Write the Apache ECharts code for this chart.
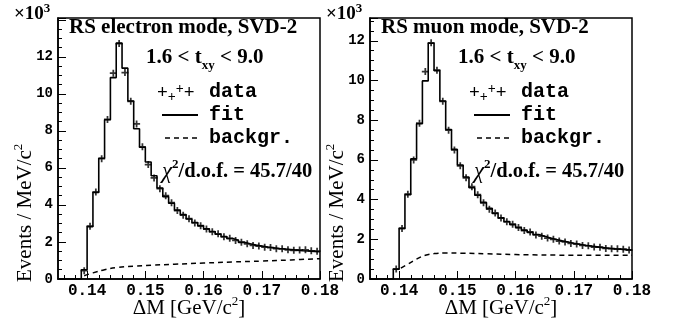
<!DOCTYPE html>
<html>
<head>
<meta charset="utf-8">
<script src="https://cdn.jsdelivr.net/npm/echarts@6/dist/echarts.min.js"></script>
<style>html,body{margin:0;padding:0;background:#fff}#c{width:676px;height:324px}</style>
</head>
<body>
<div id="c"></div>
<script>
// ---- binning (1 MeV bins from 0.135 to 0.180 GeV) ----
const binLo = 0.135;
const binW = 0.001;

// ---- tick labels ----
const xMajorTicks = [0.14, 0.15, 0.16, 0.17, 0.18];
const xMinorTicks = [0.136, 0.138, 0.142, 0.144, 0.146, 0.148, 0.152, 0.154, 0.156, 0.158,
                     0.162, 0.164, 0.166, 0.168, 0.172, 0.174, 0.176, 0.178];
const yLabels = [0, 2, 4, 6, 8, 10, 12];

// ---- electron mode (units of 10^3 events / MeV) ----
const elecFit = [0, 0, 0, 0, 0.5, 2.83, 4.68, 6.52, 8.6, 10.88, 12.74, 11.39, 9.62, 8.12, 7.12,
  6.32, 5.58, 4.92, 4.45, 4.09, 3.72, 3.48, 3.24, 3.05, 2.87, 2.71, 2.57, 2.42, 2.3, 2.19,
  2.09, 1.98, 1.9, 1.83, 1.78, 1.73, 1.69, 1.65, 1.62, 1.59, 1.56, 1.53, 1.51, 1.49, 1.47];
const elecData = [0, 0, 0, 0, 0.45, 2.85, 4.7, 6.5, 8.62, 11.12, 12.72, 11.15, 9.6, 8.38, 7.14,
  6.18, 5.46, 4.88, 4.5, 4.12, 3.7, 3.45, 3.26, 3.03, 2.88, 2.7, 2.55, 2.44, 2.28, 2.2,
  2.08, 1.99, 1.9, 1.81, 1.78, 1.72, 1.7, 1.64, 1.63, 1.58, 1.55, 1.57, 1.58, 1.52, 1.5];
const elecBgX = [0.1395, 0.141, 0.143, 0.145, 0.148, 0.151, 0.155, 0.160, 0.165, 0.170, 0.175, 0.180];
const elecBgY = [0.18, 0.33, 0.5, 0.62, 0.69, 0.74, 0.8, 0.86, 0.92, 0.97, 1.03, 1.1];

// ---- muon mode ----
const muFit = [0, 0, 0, 0, 0.5, 2.55, 4.25, 6.05, 7.82, 9.98, 11.88, 10.5, 8.97, 7.53, 6.53,
  5.74, 5.14, 4.6, 4.22, 3.86, 3.56, 3.3, 3.08, 2.9, 2.74, 2.59, 2.46, 2.35, 2.24, 2.15,
  2.07, 1.99, 1.92, 1.86, 1.8, 1.75, 1.7, 1.66, 1.62, 1.58, 1.55, 1.52, 1.5, 1.48, 1.46];
const muData = [0, 0, 0, 0, 0.5, 2.55, 4.27, 6.0, 7.85, 10.45, 11.9, 10.52, 8.95, 7.5, 6.5,
  5.7, 5.1, 4.65, 4.25, 3.84, 3.52, 3.33, 3.07, 2.88, 2.76, 2.6, 2.44, 2.37, 2.22, 2.16,
  2.06, 2.0, 1.91, 1.87, 1.79, 1.76, 1.69, 1.67, 1.61, 1.6, 1.54, 1.53, 1.52, 1.5, 1.46];
const muBgX = [0.1403, 0.1415, 0.143, 0.1445, 0.146, 0.148, 0.151, 0.155, 0.160, 0.170, 0.180];
const muBgY = [0.55, 0.75, 1.0, 1.2, 1.28, 1.31, 1.3, 1.27, 1.23, 1.2, 1.2];

const panelTitles = ['RS electron mode, SVD-2', 'RS muon mode, SVD-2'];
const cutText = '1.6 < t{sub|xy} < 9.0';
const chiText = '{chi|χ}{sup|2}/d.o.f. = 45.7/40';
const yMax = [14.1, 13.15];

// ---- helpers ----
function stepData(vals) {
  const d = vals.map((v, i) => [+(binLo + i * binW).toFixed(4), v]);
  d.push([+(binLo + vals.length * binW).toFixed(4), vals[vals.length - 1]]);
  return d;
}
function pointData(vals) {
  return vals.map((v, i) => v === 0 ? null : [+(binLo + (i + 0.5) * binW).toFixed(4), v]).filter(Boolean);
}
function zip(xs, ys) { return xs.map((x, i) => [x, ys[i]]); }

const SERIF = 'Liberation Serif';
const MONO = 'Liberation Mono';
const gridLefts = [58, 370];
const gridTop = 18, gridW = 262, gridH = 261;
const plusPath = 'path://M-0.25,-1H0.25V-0.25H1V0.25H0.25V1H-0.25V0.25H-1V-0.25H-0.25Z';

const grids = [], xAxes = [], yAxes = [], series = [], graphics = [];

[0, 1].forEach(p => {
  const L = gridLefts[p];
  grids.push({left: L, top: gridTop, width: gridW, height: gridH, show: true,
    borderColor: '#000', borderWidth: 1.5, backgroundColor: 'transparent'});
  xAxes.push({gridIndex: p, type: 'value', min: binLo, max: 0.18,
    axisLine: {show: true, onZero: false, lineStyle: {color: '#000', width: 1.5}},
    axisTick: {show: true, inside: true, length: 8, customValues: xMajorTicks, lineStyle: {color: '#000', width: 1}},
    axisLabel: {show: true, customValues: xMajorTicks, formatter: v => v.toFixed(2), color: '#000',
      fontFamily: MONO, fontWeight: 'bold', fontSize: 16, margin: 4},
    splitLine: {show: false}});
  xAxes.push({gridIndex: p, type: 'value', min: binLo, max: 0.18, position: 'bottom',
    axisLine: {show: false},
    axisTick: {show: true, inside: true, length: 4, customValues: xMinorTicks, lineStyle: {color: '#000', width: 1}},
    axisLabel: {show: false}, splitLine: {show: false}});
  yAxes.push({gridIndex: p, type: 'value', min: 0, max: yMax[p], interval: 2,
    axisLine: {show: true, onZero: false, lineStyle: {color: '#000', width: 1.5}},
    axisTick: {show: true, inside: true, length: 8, lineStyle: {color: '#000', width: 1}},
    minorTick: {show: true, splitNumber: 4, length: 4, lineStyle: {color: '#000', width: 1}},
    axisLabel: {show: true, customValues: yLabels, color: '#000', fontFamily: MONO, fontWeight: 'bold', fontSize: 14, margin: 5},
    splitLine: {show: false}, minorSplitLine: {show: false}});

  const fit = p === 0 ? elecFit : muFit;
  const dat = p === 0 ? elecData : muData;
  const bg = p === 0 ? zip(elecBgX, elecBgY) : zip(muBgX, muBgY);
  const xi = p * 2;
  series.push({type: 'line', name: 'fit', xAxisIndex: xi, yAxisIndex: p, step: 'end', data: stepData(fit),
    showSymbol: false, symbol: 'none', lineStyle: {color: '#000', width: 1.6}, animation: false, z: 3});
  series.push({type: 'line', name: 'backgr.', xAxisIndex: xi, yAxisIndex: p, data: bg, smooth: 0.4,
    showSymbol: false, symbol: 'none', lineStyle: {color: '#000', width: 1.5, type: [5, 4]}, animation: false, z: 2});
  series.push({type: 'scatter', name: 'data', xAxisIndex: xi, yAxisIndex: p, data: pointData(dat),
    symbol: plusPath, symbolSize: 7, itemStyle: {color: '#000'}, animation: false, z: 4});

  const txt = (x, y, text, size, family, weight, extra) => graphics.push(Object.assign({
    type: 'text', x: x, y: y, z: 10,
    style: Object.assign({text: text, fill: '#000', fontSize: size, fontFamily: family, fontWeight: weight,
      align: 'left', verticalAlign: 'middle'}, extra || {})
  }));
  const supRich = {
    sup: {fontSize: 13, fontFamily: SERIF, fontWeight: 'bold', fill: '#000', verticalAlign: 'top', lineHeight: 28},
    sub: {fontSize: 13, fontFamily: SERIF, fontWeight: 'bold', fill: '#000', verticalAlign: 'bottom', lineHeight: 28},
    chi: {fontSize: 23, fontFamily: SERIF, fontStyle: 'italic', fill: '#000', lineHeight: 28}
  };
  txt(L + 11, 28, panelTitles[p], 21, SERIF, 'bold');
  txt(L + 88, 58, cutText, 21, SERIF, 'bold', {rich: supRich, lineHeight: 28});
  txt(L + 99, 93, '+{sub|+}{sup|+}+', 19, SERIF, 'bold', {rich: {
    sup: {fontSize: 14, fontFamily: SERIF, fontWeight: 'bold', fill: '#000', verticalAlign: 'top', lineHeight: 22},
    sub: {fontSize: 14, fontFamily: SERIF, fontWeight: 'bold', fill: '#000', verticalAlign: 'bottom', lineHeight: 22}}, lineHeight: 22});
  txt(L + 151, 92, 'data', 20, MONO, 'bold');
  txt(L + 151, 115, 'fit', 20, MONO, 'bold');
  txt(L + 151, 138, 'backgr.', 20, MONO, 'bold');
  graphics.push({type: 'line', z: 10, shape: {x1: L + 104, y1: 115, x2: L + 140, y2: 115}, style: {stroke: '#000', lineWidth: 2}});
  graphics.push({type: 'line', z: 10, shape: {x1: L + 107, y1: 138, x2: L + 141, y2: 138}, style: {stroke: '#000', lineWidth: 1.5, lineDash: [5, 4]}});
  txt(L + 104, 172, chiText, 20.5, SERIF, 'bold', {rich: supRich, lineHeight: 28});
  txt(L + 131, 308, 'ΔM [GeV/c{sup|2}]', 21, SERIF, 'normal', {align: 'center', lineHeight: 26, rich: {
    sup: {fontSize: 13, fontFamily: SERIF, fill: '#000', verticalAlign: 'top', lineHeight: 26}}});
  graphics.push({type: 'text', x: L - 33, y: 282, rotation: Math.PI / 2, z: 10,
    style: {text: 'Events / MeV/c{sup|2}', fill: '#000', fontSize: 21, fontFamily: SERIF,
      align: 'left', verticalAlign: 'middle', lineHeight: 26,
      rich: {sup: {fontSize: 13, fontFamily: SERIF, fill: '#000', verticalAlign: 'top', lineHeight: 26}}}});
  txt(L - 44, 14, '×10{sup|3}', 19, SERIF, 'bold', {lineHeight: 24, rich: {
    sup: {fontSize: 13, fontFamily: SERIF, fontWeight: 'bold', fill: '#000', verticalAlign: 'top', lineHeight: 24}}});
});

const chart = echarts.init(document.getElementById('c'), null, {renderer: 'canvas'});
chart.setOption({
  backgroundColor: '#fff',
  animation: false,
  grid: grids, xAxis: xAxes, yAxis: yAxes, series: series, graphic: graphics
});
</script>
</body>
</html>
